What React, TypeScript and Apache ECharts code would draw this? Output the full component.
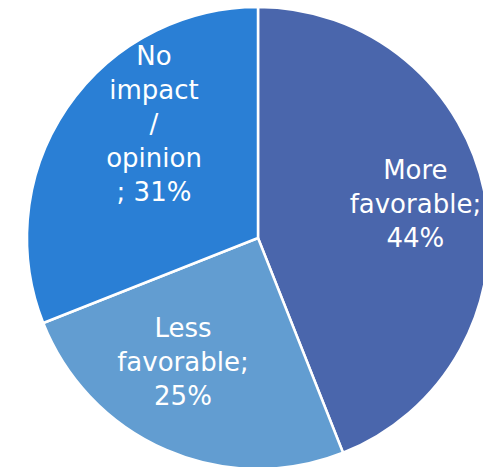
import React, { useEffect, useRef } from "react";
import * as echarts from "echarts";

const categories = ["More favorable", "Less favorable", "No impact / opinion"];
const values = [44, 25, 31];
const labelLines = [
  ["More", "favorable;", "44%"],
  ["Less", "favorable;", "25%"],
  ["No", "impact", "/", "opinion", "; 31%"],
];
const colors = ["#4A66AC", "#629DD1", "#2A7FD5"];
const labelOffsets = [
  [41, -12],
  [-28, 15],
  [-6, -47],
];

export default function App() {
  const ref = useRef<HTMLDivElement>(null);
  useEffect(() => {
    if (!ref.current) return;
    const chart = echarts.init(ref.current, null, { renderer: "svg" });
    chart.setOption({
      animation: false,
      backgroundColor: "#ffffff",
      series: [
        {
          type: "pie",
          center: [258, 238],
          radius: [0, 231],
          startAngle: 90,
          clockwise: true,
          avoidLabelOverlap: false,
          itemStyle: { borderColor: "#ffffff", borderWidth: 2.5 },
          label: {
            show: true,
            position: "inside",
            color: "#ffffff",
            fontFamily: "DejaVu Sans",
            fontSize: 26,
            lineHeight: 34,
            align: "center",
          },
          labelLine: { show: false },
          emphasis: { disabled: true },
          data: categories.map((name, i) => ({
            name,
            value: values[i],
            itemStyle: { color: colors[i] },
            label: {
              formatter: labelLines[i].join("\n"),
              offset: labelOffsets[i],
            },
          })),
        },
      ],
    });
    return () => chart.dispose();
  }, []);
  return (
    <div
      ref={ref}
      style={{ position: "fixed", left: 0, top: 0, width: 483, height: 467 }}
    />
  );
}
